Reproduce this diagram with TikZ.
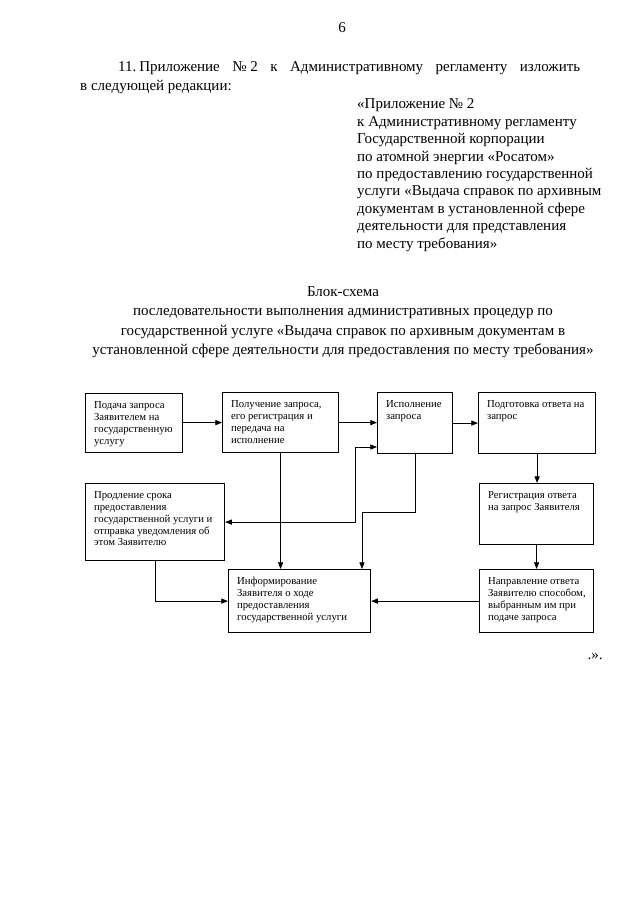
\documentclass[tikz,border=0pt]{standalone}
\usepackage{fontspec}
\setmainfont{Liberation Serif}
\usetikzlibrary{arrows.meta}
\newlength\pxu
\setlength\pxu{0.328177mm}
\newcommand\bx[3]{\parbox[c][\dimexpr#2\pxu-4.6mm\relax][t]{\dimexpr#1\pxu-5.6mm\relax}{\begin{tabular}[t]{@{}l@{}}#3\end{tabular}}}
\tikzset{
  stepbox/.style={draw, line width=1.1pt, inner xsep=2.8mm, inner ysep=2.3mm, anchor=north west,
    font=\fontsize{10}{11}\selectfont},
  arr/.style={line width=0.8pt, -{Triangle[length=2.2mm,width=1.7mm]}},
  arrboth/.style={line width=0.8pt, {Triangle[length=2.2mm,width=1.7mm]}-{Triangle[length=2.2mm,width=1.7mm]}},
  bigtext/.style={inner sep=0pt, font=\fontsize{14}{16.3}\selectfont},
}
\begin{document}
\begin{tikzpicture}[x=0.328177mm, y=-0.328177mm]
\fill[white] (0,0) rectangle (640,905);
\useasboundingbox (0,0) rectangle (640,905);

% page number
\node[bigtext, anchor=base] (pnum) at (342,33) {6};

% paragraph
\node[bigtext, anchor=base west] (p1) at (118,71.5)
  {\makebox[462\pxu][s]{11.\hspace{0.2em}Приложение №\hspace{0.25em}2 к Административному регламенту изложить}};
\node[bigtext, anchor=base west] (p2) at (80,90.5) {в следующей редакции:};

% right block
\node[bigtext, anchor=north west, align=left] (app) at (357,96.2)
  {\strut«Приложение №\hspace{0.25em}2\\
   к Административному регламенту\\
   Государственной корпорации\\
   по атомной энергии «Росатом»\\
   по предоставлению государственной\\
   услуги «Выдача справок по архивным\\
   документам в установленной сфере\\
   деятельности для представления\\
   по месту требования»};

% title
\node[bigtext, anchor=north, align=center, font=\fontsize{14}{18.2}\selectfont] (title) at (343,282.5)
  {\strut Блок-схема\\
   последовательности выполнения административных процедур по\\
   государственной услуге «Выдача справок по архивным документам в\\
   установленной сфере деятельности для предоставления по месту требования»};

% boxes
\node[stepbox] (A) at (85,393) {\bx{97}{59}{Подача запроса\\Заявителем на\\государственную\\услугу}};
\node[stepbox] (B) at (222,392) {\bx{116}{60}{Получение запроса,\\его регистрация и\\передача на\\исполнение}};
\node[stepbox] (C) at (377,392) {\bx{75}{61}{Исполнение\\запроса}};
\node[stepbox] (D) at (478,392) {\bx{117}{61}{Подготовка ответа на\\запрос}};
\node[stepbox] (E) at (85,483) {\bx{139}{77}{Продление срока\\предоставления\\государственной услуги и\\отправка уведомления об\\этом Заявителю}};
\node[stepbox] (F) at (228,569) {\bx{142}{63}{Информирование\\Заявителя о ходе\\предоставления\\государственной услуги}};
\node[stepbox] (G) at (479,483) {\bx{114}{61}{Регистрация ответа\\на запрос Заявителя}};
\node[stepbox] (H) at (479,569) {\bx{114}{63}{Направление ответа\\Заявителю способом,\\выбранным им при\\подаче запроса}};

% connectors
\coordinate (j1) at (355,447);
\coordinate (j2) at (362,512);
\draw[arr] (A.east |- B.west) -- (B.west);
\draw[arr] (B.east) -- (C.west |- B.east);
\draw[arr] (C.east) -- (D.west |- C.east);
\draw[arrboth] (C.west |- j1) -- (j1) -- (j1 |- E.east) -- (E.east);
\draw[arr] (B.south) -- (B.south |- F.north);
\draw[arr] (C.south) |- (j2) -- (j2 |- F.north);
\draw[arr] (E.south) |- (F.west);
\draw[arr] (H.west) -- (F.east |- H.west);
\draw[arr] (D.south) -- (D.south |- G.north);
\draw[arr] (G.south) -- (G.south |- H.north);

% closing mark
\node[bigtext, anchor=base] (endq) at (595,659) {.».};
\end{tikzpicture}
\end{document}
